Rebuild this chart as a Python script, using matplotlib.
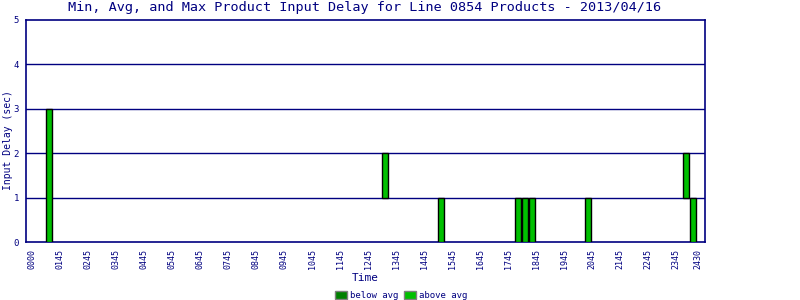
import matplotlib
matplotlib.use('agg')
import matplotlib.pyplot as plt
from matplotlib.patches import Rectangle

# 15-minute slots (start hour) that had any delay, with min and max delay (sec)
slot_start = [0.5, 12.5, 14.5, 17.25, 17.5, 17.75, 19.75, 23.25, 23.5]
delay_min = [0, 1, 0, 0, 0, 0, 0, 1, 0]
delay_max = [3, 2, 1, 1, 1, 1, 1, 2, 1]
above_avg = [True, True, True, True, True, True, True, True, True]

tick_labels = ['0000'] + ['%02d45' % h for h in range(1, 24)] + ['2430']
tick_pos = list(range(0, 24)) + [23.79]

navy = '#000080'
green_hi = '#00c000'
green_lo = '#008000'
plt.rcParams['font.family'] = ['DejaVu Sans Mono']

fig = plt.figure(figsize=(8, 3), dpi=100)
ax = fig.add_axes([26/800, 1 - 242/300, 679/800, 222/300])

colors = [green_hi if a else green_lo for a in above_avg]
heights = [hi - lo for lo, hi in zip(delay_min, delay_max)]
ax.bar(slot_start, heights, bottom=delay_min, width=0.2, align='edge',
       color=colors, edgecolor='black', linewidth=1, zorder=3)

ax.set_xlim(-6/28, 673/28)
ax.set_ylim(0, 5)
ax.set_yticks(range(6))
for y in range(1, 5):
    ax.axhline(y, color=navy, linewidth=1, zorder=1)
ax.set_xticks(tick_pos)
ax.set_xticklabels(tick_labels, rotation=90, fontsize=6, color=navy)
ax.tick_params(axis='y', labelsize=6.5, labelcolor=navy, length=0, pad=5)
ax.tick_params(axis='x', length=0, pad=5)
for s in ax.spines.values():
    s.set_color(navy)
    s.set_linewidth(1.2)

fig.text(365/800, 1 - 8/300, 'Min, Avg, and Max Product Input Delay for Line 0854 Products - 2013/04/16',
         ha='center', va='center', fontsize=9.7, color=navy)
fig.text(365/800, 1 - 278/300, 'Time', ha='center', va='center', fontsize=8, color=navy)
fig.text(8/800, 1 - 140/300, 'Input Delay (sec)', ha='center', va='center',
         rotation=90, fontsize=7, color=navy)

# legend
for x0, c, lab in [(335, green_lo, 'below avg'), (404, green_hi, 'above avg')]:
    fig.patches.append(Rectangle((x0/800, 1 - 299/300), 12/800, 8/300,
                                 transform=fig.transFigure, facecolor=c,
                                 edgecolor='gray', linewidth=1))
    fig.text((x0 + 15)/800, 1 - 295/300, lab, ha='left', va='center',
             fontsize=6.5, color=navy)

fig.savefig('out.png', dpi=100)
